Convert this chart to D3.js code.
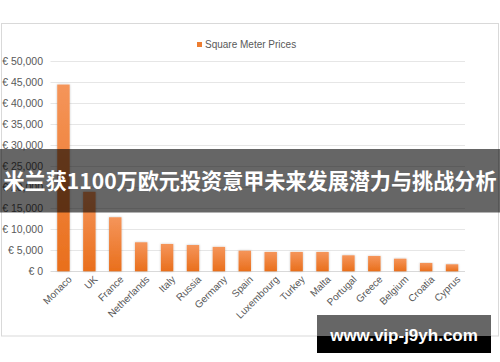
<!DOCTYPE html>
<html><head><meta charset="utf-8">
<script src="https://cdn.jsdelivr.net/npm/d3@7"></script>
<style>body{margin:0;background:#fff}svg{display:block}</style>
</head><body>
<script>
const categories = ["Monaco","UK","France","Netherlands","Italy","Russia","Germany","Spain","Luxembourg","Turkey","Malta","Portugal","Greece","Belgium","Croatia","Cyprus"];
const prices = [44400,18900,12850,6900,6500,6250,5800,4900,4600,4600,4600,3800,3650,3000,1980,1670];
const yTicks = [0,5000,10000,15000,20000,25000,30000,35000,40000,45000,50000];
const seriesName = "Square Meter Prices";
const bannerText = "米兰获1100万欧元投资意甲未来发展潜力与挑战分析";
const watermark = "www.vip-j9yh.com";

const W=500,H=362;
const svg=d3.select("body").append("svg").attr("width",W).attr("height",H);
const defs=svg.append("defs");
const g1=defs.append("linearGradient").attr("id","bg").attr("x1",0).attr("y1",0).attr("x2",0).attr("y2",1);
g1.append("stop").attr("offset","0%").attr("stop-color","#f5955a");
g1.append("stop").attr("offset","100%").attr("stop-color","#e96f1c");
const f=defs.append("filter").attr("id","sh").attr("x","-30%").attr("y","-10%").attr("width","160%").attr("height","120%");
f.append("feDropShadow").attr("dx",0).attr("dy",0).attr("stdDeviation",0.8).attr("flood-color","#000").attr("flood-opacity",0.25);

// chart frame
svg.append("rect").attr("x",1.5).attr("y",23.5).attr("width",497).attr("height",312.5)
  .attr("fill","#fff").attr("stroke","#d9d9d9").attr("stroke-width",1);

const x=d3.scaleBand().domain(categories).range([50.5,465]).paddingInner(0.52).paddingOuter(0.26);
const y=d3.scaleLinear().domain([0,50000]).range([271.3,61]);

// gridlines
svg.append("g").selectAll("line").data(yTicks).join("line")
  .attr("x1",50.5).attr("x2",465).attr("y1",d=>Math.round(y(d))+0.5).attr("y2",d=>Math.round(y(d))+0.5)
  .attr("stroke",d=>d===0?"#d9d9d9":"#e6e6e6").attr("stroke-width",1);

// y axis labels
const yAxis=d3.axisLeft(y).tickValues(yTicks).tickSize(0).tickPadding(0)
  .tickFormat(d=>"€ "+(d===0?"0":d3.format(",")(d)));
const ya=svg.append("g").attr("transform","translate(43,0)").call(yAxis);
ya.select(".domain").remove();
ya.selectAll("text").attr("font-family","Liberation Sans, Arial, sans-serif").attr("font-size",10.5).attr("fill","#595959");

// bars
svg.append("g").selectAll("rect").data(prices).join("rect")
  .attr("x",(d,i)=>x(categories[i])).attr("width",x.bandwidth())
  .attr("y",d=>y(d)).attr("height",d=>y(0)-y(d))
  .attr("fill","url(#bg)").attr("filter","url(#sh)");

// x axis labels
const xAxis=d3.axisBottom(x).tickSize(0).tickPadding(0);
const xa=svg.append("g").attr("transform","translate(0,273)").call(xAxis);
xa.select(".domain").remove();
xa.selectAll("text").attr("font-family","Liberation Sans, Arial, sans-serif").attr("font-size",10).attr("fill","#595959")
  .attr("text-anchor","end").attr("dy","0.7em").attr("dx","0")
  .attr("transform","translate(4,2) rotate(-45)");

// legend
const lg=svg.append("g");
lg.append("rect").attr("x",197).attr("y",42).attr("width",5).attr("height",5).attr("fill","#ed7d31");
lg.append("text").attr("x",205).attr("y",48).attr("font-family","Liberation Sans, Arial, sans-serif")
  .attr("font-size",10).attr("fill","#595959").text(seriesName);

// banner
svg.append("rect").attr("x",0).attr("y",149).attr("width",W).attr("height",63.5).attr("fill","#000").attr("opacity",0.6);
svg.append("text").attr("x",250).attr("y",189).attr("text-anchor","middle")
  .attr("font-family","Noto Sans CJK SC, sans-serif").attr("font-weight","bold").attr("font-size",21.5)
  .attr("textLength",493).attr("lengthAdjust","spacingAndGlyphs")
  .attr("fill","#fff").text(bannerText);

// watermark
svg.append("rect").attr("x",317).attr("y",315).attr("width",174).attr("height",21).attr("fill","#666");
svg.append("rect").attr("x",317).attr("y",336).attr("width",174).attr("height",17).attr("fill","#000");
svg.append("text").attr("x",404).attr("y",341).attr("text-anchor","middle")
  .attr("font-family","Liberation Sans, Arial, sans-serif").attr("font-weight","bold").attr("font-size",17)
  .attr("fill","#fff").text(watermark);
</script>
</body></html>
